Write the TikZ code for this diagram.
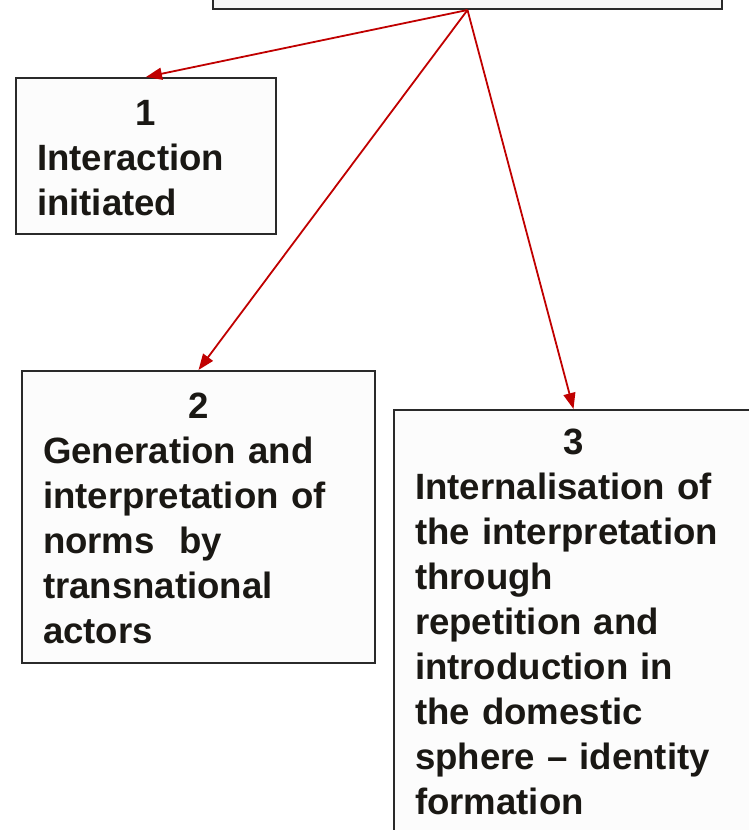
\documentclass[tikz,border=0pt]{standalone}
\usepackage{fontspec}
\setmainfont{Liberation Sans}
\usetikzlibrary{arrows.meta}
\definecolor{boxline}{HTML}{2A2A2A}
\definecolor{boxfill}{HTML}{FCFCFC}
\definecolor{topfill}{HTML}{F7F7F7}
\definecolor{arrowred}{HTML}{C00000}
\definecolor{txt}{HTML}{1A1814}
\begin{document}
\begin{tikzpicture}[x=1pt,y=-1pt,
  stagebox/.style={draw=boxline, line width=2pt, fill=boxfill, anchor=north west,
    inner xsep=21pt, inner ysep=0pt, align=left, text=txt,
    font=\fontsize{36.6}{45}\selectfont\bfseries},
  link/.style={draw=arrowred, line width=1.8pt, -{Triangle[length=16pt,width=12pt]}}]
\useasboundingbox (0,0) rectangle (749,830);
\clip (0,0) rectangle (749,830);
\node[draw=boxline, line width=2pt, fill=topfill, anchor=south, minimum width=509pt,
  minimum height=40pt, inner sep=0pt] (top) at (467.5,10) {};
\node[stagebox, text width=218pt, text height=47pt, text depth=109pt] (b1) at (15,77)
  {\makebox[\linewidth]{1}\\Interaction\\initiated};
\node[stagebox, text width=311pt, text height=47pt, text depth=245pt] (b2) at (21,370)
  {\makebox[\linewidth]{2}\\Generation and\\interpretation of\\norms~ by\\transnational\\actors};
\node[stagebox, text width=317pt, text height=44pt, text depth=500pt] (b3) at (393,409)
  {\makebox[\linewidth]{3}\\Internalisation of\\the interpretation\\through\\repetition and\\introduction in\\the domestic\\sphere -- identity\\formation};
\draw[link] (top.south) -- (b1.north);
\draw[link] (top.south) -- (b2.north);
\draw[link] (top.south) -- (b3.north);
\end{tikzpicture}
\end{document}
